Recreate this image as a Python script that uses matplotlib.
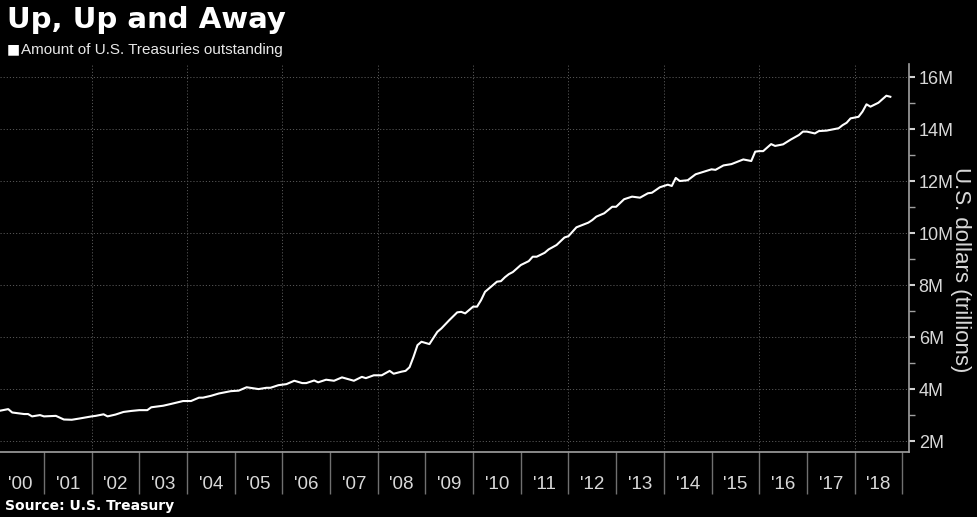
import numpy as np
import matplotlib
matplotlib.use("Agg")
import matplotlib.pyplot as plt
from matplotlib.ticker import FixedLocator, FuncFormatter

# monthly points (months since Jan 2000, value in M)
months = [1, 3, 4, 7, 8, 9, 11, 12, 15, 17, 19, 21, 24, 25, 27, 28, 30, 32, 34, 36,
          38, 39, 42, 44, 47, 49, 51, 52, 54, 56, 59, 61, 63, 66, 68, 69, 71, 73, 75, 77,
          78, 80, 81, 83, 85, 87, 90, 92, 93, 95, 97, 99, 100, 102, 103, 104, 105, 106, 107, 109,
          111, 112, 114, 116, 117, 118, 120, 121, 122, 123, 124, 125, 126, 127, 128, 129, 130, 132, 134, 135,
          136, 138, 139, 141, 143, 144, 146, 149, 150, 151, 153, 155, 156, 158, 160, 162, 164, 165, 167, 169,
          170, 171, 172, 174, 176, 180, 181, 183, 185, 188, 190, 191, 192, 193, 195, 196, 198, 200, 202, 203,
          204, 206, 207, 209, 212, 213, 214, 215, 217, 218, 219, 220, 222, 224, 225]
values = [3.17, 3.23, 3.10, 3.04, 3.04, 2.95, 3.00, 2.95, 2.97, 2.83, 2.82, 2.87, 2.95, 2.97, 3.03, 2.95, 3.02, 3.12, 3.16, 3.19,
          3.19, 3.30, 3.36, 3.43, 3.54, 3.54, 3.67, 3.67, 3.74, 3.83, 3.92, 3.94, 4.07, 4.00, 4.05, 4.05, 4.15, 4.19, 4.32, 4.23,
          4.23, 4.33, 4.26, 4.36, 4.32, 4.45, 4.32, 4.47, 4.42, 4.53, 4.53, 4.70, 4.59, 4.67, 4.70, 4.84, 5.24, 5.69, 5.82, 5.73,
          6.20, 6.33, 6.65, 6.95, 6.97, 6.91, 7.17, 7.17, 7.42, 7.74, 7.87, 8.00, 8.13, 8.15, 8.30, 8.42, 8.50, 8.77, 8.92, 9.09,
          9.09, 9.24, 9.37, 9.54, 9.83, 9.88, 10.22, 10.40, 10.50, 10.63, 10.76, 11.01, 11.01, 11.30, 11.40, 11.36, 11.53, 11.55, 11.76, 11.86,
          11.81, 12.12, 12.00, 12.03, 12.26, 12.45, 12.43, 12.60, 12.65, 12.83, 12.77, 13.13, 13.15, 13.15, 13.42, 13.35, 13.41, 13.60, 13.77, 13.90,
          13.90, 13.83, 13.92, 13.94, 14.03, 14.15, 14.24, 14.41, 14.47, 14.67, 14.95, 14.86, 15.01, 15.28, 15.24]

year_labels = ["'00", "'01", "'02", "'03", "'04", "'05", "'06", "'07", "'08", "'09",
               "'10", "'11", "'12", "'13", "'14", "'15", "'16", "'17", "'18"]
y_ticks = [2, 4, 6, 8, 10, 12, 14, 16]

t = 2000 + np.array(months) / 12.0

plt.rcParams['font.family'] = ['Liberation Sans', 'DejaVu Sans']

fig = plt.figure(figsize=(9.77, 5.17), dpi=100, facecolor="black")
ax = fig.add_axes([0.0, 0.1257, 0.9304, 0.7505], facecolor="black")

ax.plot(t, values, color="white", lw=1.5, solid_joinstyle="round")

ax.set_xlim(2000 + 0.93 / 12, 2000 + 229.7 / 12)
ax.set_ylim(1.58, 16.5)

grid_col = "#555555"
for yv in y_ticks:
    ax.axhline(yv, color=grid_col, lw=0.7, ls=(0, (1.2, 2)), zorder=0)
for xv in range(2002, 2019, 2):
    ax.axvline(xv, color=grid_col, lw=0.7, ls=(0, (1.2, 2)), zorder=0)

for s in ["top", "left"]:
    ax.spines[s].set_visible(False)
ax.spines["bottom"].set_color("#a0a0a0")
ax.spines["right"].set_color("#a0a0a0")
ax.spines["bottom"].set_linewidth(1.2)
ax.spines["right"].set_linewidth(1.2)

# x axis: separators at year starts, labels centered in each year
years = np.arange(2000, 2019)
ax.xaxis.set_major_locator(FixedLocator(np.arange(2001, 2020)))
ax.xaxis.set_minor_locator(FixedLocator(years + 0.5))
ax.xaxis.set_major_formatter(FuncFormatter(lambda v, p: ""))
ax.xaxis.set_minor_formatter(FuncFormatter(lambda v, p: year_labels[int(v - 2000)] if 0 <= int(v - 2000) < len(year_labels) else ""))
ax.tick_params(axis="x", which="major", length=30, width=1.0, color="#707070", direction="out")
ax.tick_params(axis="x", which="minor", length=0, pad=17, labelsize=13.5, labelcolor="#d8d8d8")

# y axis on the right
ax.yaxis.tick_right()
ax.yaxis.set_major_locator(FixedLocator(y_ticks))
ax.yaxis.set_minor_locator(FixedLocator(range(3, 17, 2)))
ax.yaxis.set_major_formatter(FuncFormatter(lambda v, p: f"{int(v)}M"))
ax.tick_params(axis="y", which="major", length=4, width=1.5, color="#d0d0d0",
               labelsize=13, labelcolor="#d8d8d8", pad=3)
ax.tick_params(axis="y", which="minor", length=4, width=1.0, color="#a0a0a0")

fig.text(0.9835, 0.478, "U.S. dollars (trillions)", rotation=270, color="#d8d8d8", fontsize=16,
         ha="center", va="center")

fig.text(0.007, 0.945, "Up, Up and Away", color="white", fontsize=21, fontweight="bold",
         family=["DejaVu Sans"], va="baseline")
fig.text(0.007, 0.904, "\u25a0", color="white", fontsize=10, va="center", family=["DejaVu Sans"])
fig.text(0.022, 0.904, "Amount of U.S. Treasuries outstanding", color="#e8e8e8", fontsize=11, va="center")
fig.text(0.005, 0.021, "Source: U.S. Treasury", color="white", fontsize=10, fontweight="bold",
         family=["DejaVu Sans"], va="center")

fig.savefig("out.png", dpi=100, facecolor="black")
